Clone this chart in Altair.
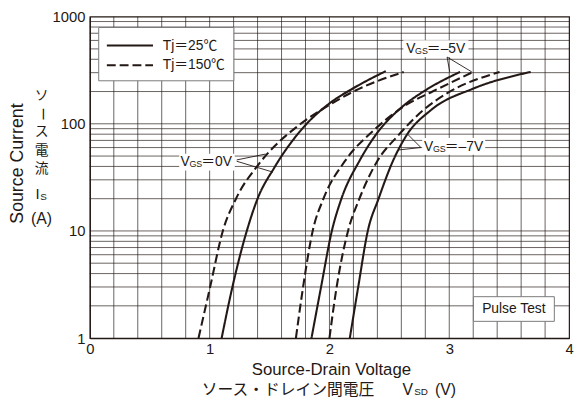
import altair as alt
import pandas as pd

INK = "#231815"
LATIN = "'Liberation Sans', 'Noto Sans CJK JP', sans-serif"
CJK = "'Noto Sans CJK JP', sans-serif"

# ---- curves (Source-Drain Voltage [V], Source Current [A]) ----
v0_25_x = [1.10, 1.19, 1.31, 1.40, 1.54, 1.81, 2.00, 2.20, 2.47]
v0_25_y = [1, 3, 10, 20, 39, 100, 155, 215, 310]
v0_150_x = [0.907, 1.004, 1.11, 1.22, 1.41, 1.76, 2.00, 2.20, 2.62]
v0_150_y = [1, 3, 10, 20, 42, 100, 150, 200, 305]
v5_25_x = [1.85, 1.93, 2.02, 2.10, 2.25, 2.38, 2.61, 2.80, 3.09]
v5_25_y = [1, 3, 10, 20, 45, 77, 145, 205, 305]
v5_150_x = [1.72, 1.78, 1.86, 1.95, 2.13, 2.38, 2.64, 2.86, 3.20]
v5_150_y = [1, 3, 10, 20, 45, 89, 150, 200, 305]
v7_25_x = [2.17, 2.24, 2.32, 2.41, 2.53, 2.64, 2.85, 3.20, 3.68]
v7_25_y = [1, 3, 10, 20, 45, 77, 135, 213, 305]
v7_150_x = [2.00, 2.06, 2.155, 2.25, 2.40, 2.57, 2.786, 2.98, 3.42]
v7_150_y = [1, 3, 10, 20, 45, 77, 135, 192, 305]

series = [
    ("0V", "25", v0_25_x, v0_25_y), ("0V", "150", v0_150_x, v0_150_y),
    ("-5V", "25", v5_25_x, v5_25_y), ("-5V", "150", v5_150_x, v5_150_y),
    ("-7V", "25", v7_25_x, v7_25_y), ("-7V", "150", v7_150_x, v7_150_y),
]

# ---- tick / grid values ----
x_labels = [0, 1, 2, 3, 4]
y_labels = [1, 10, 100, 1000]
x_grid = [round(i * 0.2, 1) for i in range(1, 20)]
y_grid = [m * 10 ** e for e in range(3) for m in range(1, 10)][1:]

# ---- annotations (data units) ----
lab_x = [0.757, 2.64, 2.79]
lab_y = [44.4, 497, 61.0]
lab_suffix = ["＝0V", "＝–5V", "＝–7V"]
box_x1 = [0.746, 2.617, 2.774]
box_x2 = [1.21, 3.16, 3.30]
box_y1 = [36.7, 419.6, 51.5]
box_y2 = [52.6, 601, 73.8]
ptr_x1 = [1.226, 1.226, 2.982, 2.982, 2.763, 2.763]
ptr_y1 = [46.0, 44.7, 419.6, 419.6, 60.1, 60.1]
ptr_x2 = [1.467, 1.528, 3.004, 3.188, 2.653, 2.571]
ptr_y2 = [52.2, 35.4, 305, 305, 79.8, 56.9]

leg_box = dict(x1=[0.074], x2=[1.202], y1=[252], y2=[792])
leg_tj = ["25", "150"]
leg_text = ["Tj＝25℃", "Tj＝150℃"]
leg_line_x1 = [0.142, 0.142]
leg_line_x2 = [0.527, 0.527]
leg_line_y = [537, 352]
leg_text_x = [0.609, 0.609]

pulse_box = dict(x1=[3.202], x2=[3.877], y1=[1.433], y2=[2.435])
pulse_text = ["Pulse Test"]
pulse_x = [3.539]
pulse_y = [1.85]

rows = []
for vgs, tj, xs, ys in series:
    for xv, yv in zip(xs, ys):
        rows.append({"curve": vgs + "_" + tj, "tj": tj, "vsd": xv, "is": yv})
df = pd.DataFrame(rows)

XS = alt.Scale(domain=[0, 4], nice=False, zero=False)
YS = alt.Scale(type="log", domain=[1, 1000], nice=False)
dash_scale = alt.Scale(domain=["25", "150"], range=[[1, 0], [9, 4]])

x_axis = alt.Axis(values=x_labels, grid=False, title=None, tickSize=0, format="d",
                  labelFont=LATIN, labelFontSize=15, labelColor=INK, labelPadding=4,
                  labelFlush=False, labelOverlap=False,
                  domainColor=INK, domainWidth=1.2)
y_axis = alt.Axis(values=y_labels, grid=False, title=None, tickSize=0, format="d",
                  labelFont=LATIN, labelFontSize=15, labelColor=INK, labelPadding=5,
                  labelOverlap=False, labelFlush=False,
                  domainColor=INK, domainWidth=1.2)


def X(f):
    return alt.X(f, scale=XS, axis=x_axis)


def Y(f):
    return alt.Y(f, scale=YS, axis=y_axis)


# grid drawn as rules
vgrid = alt.Chart(pd.DataFrame({"v": x_grid})).mark_rule(color=INK, strokeWidth=0.8, opacity=0.85).encode(
    x=X("v:Q"))
hgrid = alt.Chart(pd.DataFrame({"v": y_grid})).mark_rule(color=INK, strokeWidth=0.8, opacity=0.85).encode(
    y=Y("v:Q"))

curves = alt.Chart(df).mark_line(interpolate="monotone", strokeWidth=2.1, color=INK, clip=True).encode(
    x=X("vsd:Q"),
    y=Y("is:Q"),
    detail="curve:N",
    strokeDash=alt.StrokeDash("tj:N", scale=dash_scale, legend=None),
    order="vsd:Q",
)

boxes_df = pd.DataFrame({"x1": box_x1, "x2": box_x2, "y1": box_y1, "y2": box_y2})
boxes = alt.Chart(boxes_df).mark_rect(fill="white").encode(
    x=X("x1:Q"), x2="x2:Q", y=Y("y1:Q"), y2="y2:Q")

ptr_df = pd.DataFrame({"x1": ptr_x1, "y1": ptr_y1, "x2": ptr_x2, "y2": ptr_y2})
pointers = alt.Chart(ptr_df).mark_rule(color=INK, strokeWidth=0.9).encode(
    x=X("x1:Q"), x2="x2:Q", y=Y("y1:Q"), y2="y2:Q")

lab_df = pd.DataFrame({"x": lab_x, "y": lab_y, "suffix": lab_suffix})
lab_v = alt.Chart(lab_df).mark_text(text="V", align="left", baseline="middle", font=LATIN,
                                    fontSize=14, color=INK).encode(x=X("x:Q"), y=Y("y:Q"))
lab_gs = alt.Chart(lab_df).mark_text(text="GS", align="left", baseline="middle", font=LATIN,
                                     fontSize=9, color=INK, dx=9, dy=2).encode(x=X("x:Q"), y=Y("y:Q"))
lab_sfx = alt.Chart(lab_df).mark_text(align="left", baseline="middle", font=LATIN,
                                      fontSize=14, color=INK, dx=21).encode(
    x=X("x:Q"), y=Y("y:Q"), text="suffix:N")

legbox = alt.Chart(pd.DataFrame(leg_box)).mark_rect(fill="white", stroke="#7a7a7a", strokeWidth=1).encode(
    x=X("x1:Q"), x2="x2:Q", y=Y("y1:Q"), y2="y2:Q")
leg_df = pd.DataFrame({"tj": leg_tj, "text": leg_text, "x1": leg_line_x1, "x2": leg_line_x2,
                       "y": leg_line_y, "tx": leg_text_x})
leg_lines = alt.Chart(leg_df).mark_rule(color=INK, strokeWidth=2.1).encode(
    x=X("x1:Q"), x2="x2:Q", y=Y("y:Q"),
    strokeDash=alt.StrokeDash("tj:N", scale=alt.Scale(domain=["25", "150"], range=[[1, 0], [12, 6]]),
                              legend=None))
leg_texts = alt.Chart(leg_df).mark_text(align="left", baseline="middle", font=LATIN, fontSize=14,
                                        color=INK).encode(x=X("tx:Q"), y=Y("y:Q"), text="text:N")

pbox = alt.Chart(pd.DataFrame(pulse_box)).mark_rect(fill="white", stroke="#7a7a7a", strokeWidth=1).encode(
    x=X("x1:Q"), x2="x2:Q", y=Y("y1:Q"), y2="y2:Q")
ptext = alt.Chart(pd.DataFrame({"t": pulse_text, "x": pulse_x, "y": pulse_y})).mark_text(
    align="center", baseline="middle", font=LATIN, fontSize=14, color=INK).encode(
    x=X("x:Q"), y=Y("y:Q"), text="t:N")

# ---- axis titles (text annotations outside the plot) ----
dummy = pd.DataFrame({"a": [0]})


def note(text, px, py, size, font=LATIN, angle=0, align="center"):
    return alt.Chart(dummy).mark_text(text=text, font=font, fontSize=size, color=INK, angle=angle,
                                      align=align, baseline="middle").encode(
        x=alt.value(px), y=alt.value(py))


titles = [
    note("Source Current", -73, 149, 18, angle=270),
    note("ソ", -49, 81, 14, font=CJK),
    note("ー", -49, 99, 14, font=CJK, angle=90),
    note("ス", -49, 117, 14, font=CJK),
    note("電", -49, 136, 14, font=CJK),
    note("流", -49, 155, 14, font=CJK),
    note("I", -53, 180, 15),
    note("S", -47, 183, 10),
    note("(A)", -49, 205, 16),
    note("Source-Drain Voltage", 245, 358, 17),
    note("ソース・ドレイン間電圧", 201, 379, 16, font=CJK),
    note("V", 317, 379, 16, align="left"),
    note("SD", 329, 381, 10, align="left"),
    note("(V)", 350, 379, 16, align="left"),
]

chart = alt.layer(
    vgrid, hgrid, curves, boxes, pointers, lab_v, lab_gs, lab_sfx,
    legbox, leg_lines, leg_texts, pbox, ptext, *titles
).properties(
    width=486, height=326,
    background="white",
    autosize=alt.AutoSizeParams(type="none"),
    padding={"left": 83, "top": 6, "right": 5, "bottom": 59},
).configure_view(stroke=INK, strokeWidth=1.2)

chart.save("out.html", embed_options={"renderer": "svg", "actions": False})
